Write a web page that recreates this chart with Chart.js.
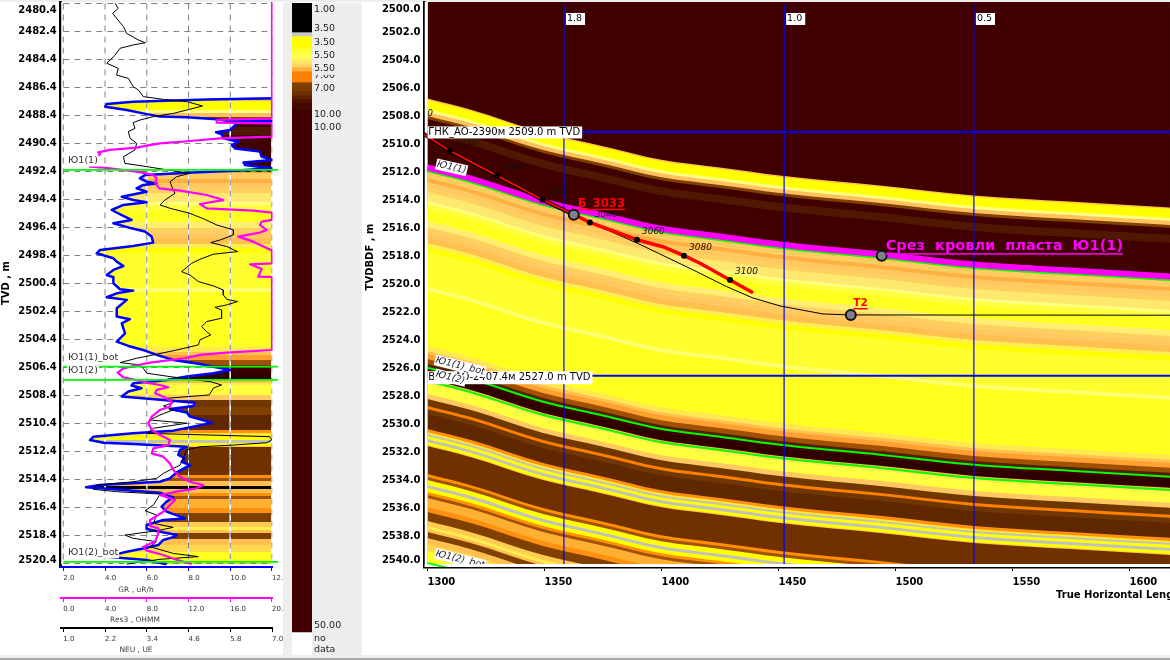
<!DOCTYPE html>
<html><head><meta charset="utf-8">
<style>
html,body{margin:0;padding:0;background:#fff;width:1170px;height:660px;overflow:hidden}
canvas{position:absolute;display:block}
.b{position:absolute}
</style>
<script src="https://cdn.jsdelivr.net/npm/chart.js@4/dist/chart.umd.js"></script>
</head><body>
<div class="b" style="left:0;top:0;width:1170px;height:2px;background:#eee"></div>
<div class="b" style="left:283px;top:3px;width:79px;height:652px;background:#eee"></div>
<div class="b" style="left:0;top:655px;width:1170px;height:5px;background:#eee"></div>
<div class="b" style="left:0;top:658px;width:1170px;height:2px;background:#aaa"></div>
<canvas id="log" width="283" height="655" style="left:0;top:0"></canvas>
<canvas id="cb" width="79" height="652" style="left:283px;top:3px"></canvas>
<canvas id="sec" width="808" height="655" style="left:362px;top:0"></canvas>
<script>
// ---------- log track ----------
const logTickValues=[2480.9,2482.4,2484.4,2486.4,2488.4,2490.4,2492.4,2494.4,2496.4,2498.4,2500.4,2502.4,2504.4,2506.4,2508.4,2510.4,2512.4,2514.4,2516.4,2518.4,2520.15];
const logTickLabels=["2480.4","2482.4","2484.4","2486.4","2488.4","2490.4","2492.4","2494.4","2496.4","2498.4","2500.4","2502.4","2504.4","2506.4","2508.4","2510.4","2512.4","2514.4","2516.4","2518.4","2520.4"];
const gridDepths=[2480.4,2482.4,2484.4,2486.4,2488.4,2490.4,2492.4,2494.4,2496.4,2498.4,2500.4,2502.4,2504.4,2506.4,2508.4,2510.4,2512.4,2514.4,2516.4,2518.4,2520.4];
const gridEnds=[12,12,12,12,6.1,10.1,12,5.1,5.3,3.8,4.4,4.6,4.6,9.2,4.9,9.1,7.6,7,6.7,7.4,12];
const grTicks=[2,4,6,8,10,12], grLabels=["2.0","4.0","6.0","8.0","10.0","12.0"];
const resTicks=[0,4,8,12,16,20], resLabels=["0.0","4.0","8.0","12.0","16.0","20.0"];
const neuTicks=[1,2.2,3.4,4.6,5.8,7], neuLabels=["1.0","2.2","3.4","4.6","5.8","7.0"];
const topDepths=[2492.29,2506.34,2507.29,2520.29];
const topNames=["Ю1(1)","Ю1(1)_bot","Ю1(2)","Ю1(2)_bot"];

const grDepth=[2480.3,2487.05,2487.17,2487.25,2487.41,2487.58,2487.77,2488.01,2488.25,2488.48,2488.53,2488.67,2488.77,2488.8,2488.95,2489.08,2489.44,2489.6,2489.75,2490.03,2490.27,2490.51,2490.75,2490.98,2491.34,2491.58,2491.75,2491.94,2492.05,2492.17,2492.34,2492.48,2492.65,2492.89,2493.13,2493.25,2493.36,2493.6,2493.84,2494.2,2494.44,2494.6,2494.79,2495.15,2495.51,2495.86,2496.1,2496.46,2496.69,2497.05,2497.48,2497.72,2498,2498.24,2498.6,2498.84,2499.15,2499.43,2499.79,2499.95,2500.38,2500.81,2500.91,2501.1,2501.38,2501.57,2502.17,2502.76,2502.95,2503.24,2503.96,2504.55,2504.86,2505.19,2505.5,2505.86,2506.15,2506.34,2506.57,2506.81,2507.05,2507.29,2507.53,2507.69,2507.88,2508.12,2508.48,2508.72,2508.91,2509.15,2509.36,2509.62,2509.91,2510.34,2510.57,2510.91,2511.1,2511.34,2511.58,2511.77,2511.87,2512.06,2512.29,2512.65,2512.89,2513.13,2513.37,2513.89,2514.32,2514.56,2514.79,2514.96,2515.15,2515.34,2515.68,2515.98,2516.34,2516.7,2517.18,2517.29,2517.65,2517.94,2518.37,2518.48,2518.72,2519.08,2519.25,2519.56,2519.91,2520.15,2520.46];
const grValue=[12,12,12,8.87,5.35,4.08,4.01,5.04,5.83,6.63,7.91,9.35,9.83,12,10.31,10.23,9.99,9.32,9.59,9.67,10.39,10.07,10.23,11.42,11.5,12,10.63,10.71,11.27,12,10.15,8.23,5.91,5.67,5.99,6.47,5.83,5.51,5.99,4.8,5.35,5.99,4.88,4.32,4.8,5.27,4.4,5.27,5.91,6.23,6.31,5.35,3.76,3.6,4.4,4.56,4.88,4.4,4.08,4.4,4.4,4.72,5.35,4.56,4.08,5.04,4.56,4.56,5.19,4.8,4.96,4.56,5.12,5.91,6.47,7.27,8.55,9.19,9.99,9.19,7.91,6.95,5.35,5.27,5.75,5.12,4.8,6.79,8.31,8.23,7.11,7.91,8.07,9.11,8.39,7.27,5.35,3.44,3.28,3.92,5.35,7.91,7.59,7.51,7.83,7.67,8.07,7.43,7.11,6.63,3.76,3.09,4.88,6.63,7.27,6.95,6.71,6.95,7.83,6.79,5.99,5.99,7.43,7.35,6.79,6.55,6.07,5.04,4.08,5.99,6.95];

const resDepth=[2480.3,2488.6,2488.72,2488.91,2488.96,2489.91,2490.03,2490.22,2490.39,2490.55,2490.7,2490.86,2491.03,2491.15,2492.05,2492.17,2492.44,2492.65,2492.89,2493.2,2493.6,2493.77,2494.08,2494.44,2494.72,2495.03,2495.2,2495.34,2495.86,2495.98,2496.22,2496.57,2496.76,2497.05,2497.41,2497.76,2498.05,2498.96,2499.03,2499.36,2499.91,2499.93,2505.15,2505.34,2505.5,2505.74,2506.05,2506.22,2506.46,2506.76,2507.1,2507.24,2507.48,2507.65,2507.81,2508,2508.24,2508.48,2508.84,2509.19,2509.43,2509.91,2510.38,2510.86,2511.22,2511.58,2511.94,2512.18,2512.53,2512.77,2513.25,2513.72,2514.2,2514.56,2514.79,2515.03,2515.27,2515.51,2515.87,2516.22,2516.7,2517.29,2517.72,2517.89,2518.25,2518.84,2519.2,2519.48,2519.79,2520.1,2520.44];
const resValue=[20,20,14.7,14.7,20,20,15.02,12.14,9.27,7.99,7.03,4.47,3.35,3.51,2.56,4.47,7.35,8.63,8.95,8.79,9.2,11.18,13.74,15.34,13.1,13.74,18.21,20,20,19.01,18.85,19.49,18.85,16.77,18.21,19.17,20,20,17.89,19.01,18.69,20,20,15.65,13.1,11.66,8.31,7.19,5.75,5.21,5.75,6.71,7.99,9.27,10.06,8.95,8.79,9.58,10.38,10.22,9.27,8.47,8.15,8.47,9.27,10.22,10.06,8.63,8.47,9.58,10.22,10.54,11.18,12.14,13.42,12.78,10.86,9.27,10.7,10.22,9.58,8.31,8.31,9.11,9.11,8.79,7.67,7.99,9.58,10.7,12.3];

const neuDepth=[2480.39,2480.75,2481.1,2481.46,2482.05,2482.53,2483.01,2483.2,2483.36,2483.6,2484.08,2484.67,2485.03,2485.51,2485.75,2486.34,2486.58,2487.05,2487.25,2487.41,2487.72,2488.01,2488.25,2488.48,2488.72,2488.91,2489.32,2489.55,2490.03,2490.39,2490.86,2491.34,2491.82,2491.98,2492.22,2492.53,2492.77,2493.13,2493.48,2493.96,2494.44,2494.79,2495.03,2495.39,2495.82,2496.22,2496.57,2496.93,2497.29,2497.48,2497.76,2498.12,2498.31,2498.67,2498.96,2499.55,2499.79,2500.26,2500.57,2500.86,2501.22,2501.53,2501.69,2501.93,2502.1,2502.29,2502.88,2503.12,2503.48,2503.84,2504.07,2504.43,2504.79,2505.15,2505.5,2505.74,2506.05,2506.22,2506.46,2506.81,2507.05,2507.24,2507.41,2507.65,2507.88,2508.36,2508.6,2508.91,2509.15,2509.43,2509.79,2510.15,2510.38,2510.74,2511.1,2511.34,2511.58,2511.77,2511.94,2512.06,2512.29,2513.37,2513.6,2513.96,2514.32,2514.56,2514.79,2515.1,2515.27,2515.44,2515.87,2516.22,2516.63,2516.94,2517.53,2517.82,2518.06,2518.37,2518.6,2518.84,2519.2,2519.68,2519.91,2520.1,2520.44];
const neuValue=[2.49,2.58,2.42,2.53,2.73,2.82,3.16,3.36,3.01,2.63,2.49,2.25,2.58,2.53,2.87,3.01,3.16,3.3,3.88,4.55,5,4.55,4.16,3.59,3.21,3.01,3.06,2.87,2.92,3.11,3.06,2.73,2.77,3.21,3.83,4.64,4.26,4.07,4.12,4.21,3.92,3.78,4.07,4.64,5.07,5.41,5.89,5.89,5.51,5.24,5.7,6.01,5.31,4.93,4.69,4.4,4.64,4.88,5.31,5.6,5.6,5.7,6.01,5.7,5.36,5.55,5.55,5.12,4.98,5.12,5.24,4.93,4.88,4.26,3.59,3.11,2.63,3.21,3.3,3.4,4.07,4.64,5.22,5.55,5.31,5.2,3.97,4.16,3.88,4.16,3.78,3.49,4.55,3.59,3.4,6.94,6.99,6.85,5.89,4.93,4.55,4.36,4.16,3.88,3.68,3.01,1.96,1.86,2.53,3.78,3.68,3.59,3.35,3.68,3.59,4.16,3.68,2.77,3.01,3.68,3.49,4.16,4.88,3.78,2.82];

// ---------- lithology stripes (shared by log track and section) ----------
const stripeDepths=[2440,2487.26,2487.36,2488.01,2488.22,2488.51,2488.72,2489.22,2489.79,2492.44,2492.51,2492.94,2493.22,2493.58,2493.94,2494.58,2494.79,2495.15,2496.01,2496.44,2496.79,2497.15,2497.58,2497.86,2498.22,2500.72,2501.01,2504.94,2505.29,2505.51,2505.86,2506.22,2506.44,2506.72,2507.29,2507.51,2507.65,2508.36,2508.72,2509.22,2509.43,2509.79,2510.86,2511.08,2511.22,2511.36,2511.58,2511.79,2512.01,2512.08,2514.08,2514.29,2514.51,2514.86,2515.08,2515.36,2515.58,2515.79,2516.44,2516.79,2517.44,2517.79,2518.01,2518.22,2518.65,2519.08,2519.58];
const stripeColors=["#400000","#FFC050","#FFFF00","#FFFF80","#FFC060","#804000","#400000","#501800","#400000","#FFA030","#FFCC60","#FFB040","#FFC860","#FFD060","#FFE870","#FFFF80","#FFFF40","#FFFF20","#FFEE70","#FFD060","#FFC860","#FFC050","#FFEE50","#FFFF00","#FFFF30","#FFFF70","#FFFF20","#FFE850","#FFC050","#FFA030","#A05000","#502000","#400000","#300000","#FFC040","#FFEE50","#FFFF40","#FFC860","#703800","#804000","#804000","#602800","#FF9010","#FFEA30","#FFEA30","#FFFF00","#C0C0C0","#FFFF00","#FFC050","#703000","#FF9000","#A05010","#FFC050","#000000","#FFC050","#FF9000","#A05010","#FFB030","#FF9010","#804000","#FFCC50","#FFEE50","#FFC050","#804000","#FFC050","#FFD850","#FFFF20"];
const sectionColorOverrides={2509.22:"#FF8000",2509.43:"#703800",2511.22:"#C0C0C0",2514.51:"#FFFF00",2514.86:"#C0C0C0",2515.08:"#FFFF00"};

// ---------- section ----------
const sectionX=[1300,1318.2,1349.4,1373.7,1399.4,1425,1450.6,1493.4,1533.5,1574.6,1617.3];
const horizonTop=[2511.93,2512.71,2514.36,2515.29,2516.29,2516.86,2517.43,2518.14,2518.86,2519.29,2519.71];
const secYTicks=[2500.36,2502,2504,2506,2508,2510,2512,2514,2516,2518,2520,2522,2524,2526,2528,2530,2532,2534,2536,2538,2539.71];
const secYLabels=["2500.0","2502.0","2504.0","2506.0","2508.0","2510.0","2512.0","2514.0","2516.0","2518.0","2520.0","2522.0","2524.0","2526.0","2528.0","2530.0","2532.0","2534.0","2536.0","2538.0","2540.0"];
const secXTicks=[1300,1350,1400,1450,1500,1550,1600];
const mdX=[1290.4,1309.5,1329.7,1349.2,1369.4,1389.5,1409.6,1429.3];
const mdY=[2508.43,2510.48,2512.26,2513.98,2515.6,2516.84,2517.98,2519.71];
const mdLabels=["2960","2980","3000","3020","3040","3060","3080","3100"];
const oldWellX=[1290.4,1309.5,1329.7,1349.2,1362.5];
const oldWellY=[2508.43,2510.48,2512.26,2513.98,2515.05];
const redWellX=[1362.5,1369.4,1389.5,1400.6,1409.6,1416.5,1429.3,1439.1];
const redWellY=[2515.05,2515.6,2516.84,2517.34,2517.98,2518.52,2519.71,2520.62];
const planX=[1369.4,1389.5,1413.6,1427.9,1439.1,1450.7,1469,1480.9,1617.3];
const planY=[2515.6,2517.07,2519,2520.19,2521,2521.57,2522.14,2522.21,2522.23];
const markerX=[1362.5,1480.9,1494.1];
const markerY=[2515.05,2522.21,2517.98];
const offsetLineX=[1358.3,1452.4,1533.5], offsetLineLabels=["1.8","1.0","0.5"];
const contactDepths=[2509.14,2526.55];
const contactLabels=["ГНК_АО-2390м 2509.0 m TVD","ВНК_АО-2407.4м 2527.0 m TVD"];

// ---------- colour bar ----------
const cbEdges=[0,29,33,45,50,55,58,61,64,68,79,84,88,92,96,100,106,629,652];
const cbColors=["#000000","#C8C8C8","#FFFF00","#FFFF30","#FFFF50","#FFF060","#FFE060","#FFD060","#FFB040","#FF8000","#804000","#7A3A00","#703000","#602000","#501000","#450800","#400000","#FFFFFF"];
const cbTickPos=[647,636,623,125,112,86,73,66,53,40,26,7];
const cbTickLabels=["data","no","50.00","10.00","10.00","7.00","7.00","5.50","5.50","3.50","3.50","1.00"];

// ---------- helpers ----------
const FF="'DejaVu Sans'";
const zip=(xs,ys)=>xs.map((x,i)=>({x,y:ys[i]}));
const fixW=w=>s=>{s.width=w;s.paddingTop=s.paddingBottom=s.paddingLeft=s.paddingRight=0;};
const fixH=h=>s=>{s.height=h;s.paddingTop=s.paddingBottom=s.paddingLeft=s.paddingRight=0;};
const setTicks=v=>s=>{s.ticks=v.map(value=>({value}));};
const base={responsive:false,animation:false,devicePixelRatio:1,events:[],plugins:{legend:{display:false},tooltip:{enabled:false}}};

function drawLabels(ctx,list,xs,ys,clip){
  ctx.save();
  if(clip){ctx.beginPath();ctx.rect(clip.l,clip.t,clip.r-clip.l,clip.b-clip.t);ctx.clip();}
  for(const l of list){
    const x=(l.x!==undefined?xs.getPixelForValue(l.x):l.px)+(l.dx||0);
    const y=(l.y!==undefined?ys.getPixelForValue(l.y):l.py)+(l.dy||0);
    ctx.save();ctx.translate(x,y);if(l.rot)ctx.rotate(l.rot*Math.PI/180);
    ctx.font=l.font;ctx.textBaseline='middle';ctx.textAlign=l.align||'left';
    const w=ctx.measureText(l.t).width,h=l.h||12;
    const x0=l.align==='center'?-w/2:0;
    if(l.bg){ctx.fillStyle=l.bg;ctx.fillRect(x0-1,-h/2,w+(l.pad||2),h);}
    ctx.fillStyle=l.color||'#000';ctx.fillText(l.t,0,0);
    if(l.ul){ctx.fillRect(x0,l.ul,w,1.5);}
    ctx.restore();
  }
  ctx.restore();
}

// ---------- log chart ----------
{
  const ds=[];
  stripeDepths.forEach((d,i)=>ds.push({data:[{x:2,y:d},{x:12,y:d}],xAxisID:'xGR',yAxisID:'y',borderWidth:0,pointRadius:0,backgroundColor:stripeColors[i],fill:{value:2520.4},order:1000-i}));
  const poly=zip(grValue,grDepth).concat([{x:1.9,y:2520.46},{x:1.9,y:2480.3}]);
  ds.push({data:poly,xAxisID:'xGR',yAxisID:'y',borderWidth:0,pointRadius:0,backgroundColor:'#fff',fill:'shape',order:100});
  grTicks.forEach(t=>{
    ds.push({data:[{x:t,y:2480.4},{x:t,y:2520.4}],xAxisID:'xGR',yAxisID:'y',borderColor:'#fff',borderWidth:1,pointRadius:0,order:90});
    ds.push({data:[{x:t,y:2480.4},{x:t,y:2520.4}],xAxisID:'xGR',yAxisID:'y',borderColor:'#808080',borderWidth:1,borderDash:[6,5],pointRadius:0,order:89});
  });
  gridDepths.forEach((d,i)=>ds.push({data:[{x:2,y:d},{x:gridEnds[i],y:d}],xAxisID:'xGR',yAxisID:'y',borderColor:'#808080',borderWidth:1,borderDash:[6,5],pointRadius:0,order:88}));
  ds.push({data:zip(grValue,grDepth).slice(2),xAxisID:'xGR',yAxisID:'y',borderColor:'#0000FF',borderWidth:2.5,pointRadius:0,order:30,borderJoinStyle:'round'});
  ds.push({data:zip(neuValue,neuDepth),xAxisID:'xNeu',yAxisID:'y',borderColor:'#000',borderWidth:1,pointRadius:0,order:20});
  ds.push({data:zip(resValue,resDepth),xAxisID:'xRes',yAxisID:'y',borderColor:'#FF00FF',borderWidth:2.2,pointRadius:0,order:10,borderJoinStyle:'round'});
  topDepths.forEach(d=>ds.push({data:[{x:2,y:d},{x:12.29,y:d}],xAxisID:'xGR',yAxisID:'y',borderColor:'#00FF00',borderWidth:1.8,pointRadius:0,order:5,clip:false}));
  const axisX=(min,max,ticks,labels,color,h,w)=>({type:'linear',position:'bottom',min,max,weight:w,afterBuildTicks:setTicks(ticks),afterFit:fixH(h),
    border:{display:true,color,width:2},
    grid:{display:true,drawOnChartArea:false,drawTicks:true,tickLength:4,color},
    ticks:{autoSkip:false,maxRotation:0,align:'start',padding:3,color:'#333',font:{family:FF,size:7},callback:(v,i)=>labels[i]}});
  const pageLabels=[
    {t:'GR , uR/h',px:136,py:590,align:'center',font:"7.5px "+FF,color:'#444'},
    {t:'Res3 , OHMM',px:135,py:620,align:'center',font:"7.5px "+FF,color:'#444'},
    {t:'NEU , UE',px:136,py:650,align:'center',font:"7.5px "+FF,color:'#444'}];
  const topLabelPos=[2491.65,2505.7,2506.63,2519.63];
  new Chart(document.getElementById('log'),{type:'line',data:{datasets:ds},
    options:{...base,layout:{autoPadding:false,padding:{top:2,right:10.5,left:0,bottom:0}},
      scales:{
        y:{type:'linear',reverse:true,min:2480.293,max:2520.65,afterBuildTicks:setTicks(logTickValues),afterFit:fixW(60.8),
          border:{display:true,color:'#000',width:3},grid:{display:false,drawTicks:false},
          ticks:{autoSkip:false,padding:4,color:'#000',font:{family:FF,size:10,weight:'bold'},callback:(v,i)=>logTickLabels[i]}},
        xGR:axisX(1.88,12.024,grTicks,grLabels,'#0000FF',31,1),
        xRes:axisX(-0.24,20.048,resTicks,resLabels,'#FF00FF',30,2),
        xNeu:axisX(0.928,7.014,neuTicks,neuLabels,'#000',27,3)
      }},
    plugins:[{id:'logLabels',afterDatasetsDraw(c){
      const ctx=c.ctx;
      drawLabels(ctx,topNames.map((t,i)=>({t,x:2.23,y:topLabelPos[i],font:"9.5px "+FF,color:'#333',bg:'#fff',h:11})),c.scales.xGR,c.scales.y);
      drawLabels(ctx,pageLabels,c.scales.xGR,c.scales.y);
      ctx.save();ctx.translate(6,283);ctx.rotate(-Math.PI/2);ctx.font="bold 10px "+FF;ctx.textAlign='center';ctx.textBaseline='middle';ctx.fillStyle='#000';ctx.fillText('TVD , m',0,0);ctx.restore();
    }}]});
}

// ---------- colour bar chart ----------
{
  const ds=cbColors.map((c,i)=>({data:[[cbEdges[i],cbEdges[i+1]]],backgroundColor:c,borderWidth:0,barPercentage:1,categoryPercentage:1,grouped:false}));
  new Chart(document.getElementById('cb'),{type:'bar',data:{labels:['c'],datasets:ds},
    options:{...base,layout:{autoPadding:false,padding:{left:9,top:0,bottom:0,right:0}},
      scales:{
        x:{display:false},
        y:{position:'right',type:'linear',reverse:true,min:0,max:652,afterBuildTicks:setTicks(cbTickPos),afterFit:fixW(50),
          border:{display:false},grid:{display:false,drawTicks:false},
          ticks:{autoSkip:false,padding:2,color:'#222',showLabelBackdrop:true,backdropColor:'#EEEEEE',backdropPadding:0,font:{family:FF,size:9.5},callback:(v,i)=>cbTickLabels[i]}}
      }}});
}

// ---------- section chart ----------
{
  const ds=[];
  const shifted=off=>sectionX.map((x,i)=>({x,y:horizonTop[i]+off}));
  const smooth={cubicInterpolationMode:'monotone'};
  stripeDepths.forEach((d,i)=>{
    const col=sectionColorOverrides[d]||stripeColors[i];
    ds.push({data:shifted(d-2492.44),borderWidth:0,pointRadius:0,backgroundColor:col,fill:{value:2541},order:1000-i,...smooth});
  });
  // white gaps between the section and its axes
  ds.push({data:[{x:1298.7,y:2540.11},{x:1617.3,y:2540.11}],borderColor:'#fff',borderWidth:3,pointRadius:0,order:60});
  ds.push({data:[{x:1299.36,y:2499.8},{x:1299.36,y:2540.2}],borderColor:'#fff',borderWidth:3,pointRadius:0,order:60});
  topDepths.forEach((d,i)=>ds.push({data:shifted(d-2492.29),borderColor:'#00FF00',borderWidth:2,pointRadius:0,order:50,...smooth}));
  ds.push({data:shifted(-0.25),borderColor:'#FF00FF',borderWidth:6,pointRadius:0,order:45,...smooth});
  offsetLineX.forEach(x=>ds.push({data:[{x,y:2500},{x,y:2540}],borderColor:'#0000FF',borderWidth:1.2,pointRadius:0,order:40}));
  contactDepths.forEach(y=>ds.push({data:[{x:1300,y},{x:1617.3,y}],borderColor:'#0000FF',borderWidth:2,pointRadius:0,order:40}));
  ds.push({data:zip(planX,planY),borderColor:'#000',borderWidth:1,pointRadius:0,order:30});
  ds.push({data:zip(oldWellX,oldWellY),borderColor:'#000',borderWidth:4,pointRadius:0,order:29});
  ds.push({data:zip(oldWellX,oldWellY),borderColor:'#FF0000',borderWidth:2,pointRadius:0,order:28});
  ds.push({data:zip(redWellX,redWellY),borderColor:'#FF0000',borderWidth:3.5,pointRadius:0,order:27});
  ds.push({data:zip(mdX,mdY),showLine:false,pointRadius:3,pointBackgroundColor:'#000',pointBorderWidth:0,order:26});
  ds.push({data:zip(markerX,markerY),showLine:false,pointRadius:5,pointBackgroundColor:'#808090',pointBorderColor:'#111',pointBorderWidth:2,order:25});

  new Chart(document.getElementById('sec'),{type:'line',data:{datasets:ds},
    options:{...base,layout:{autoPadding:false,padding:{top:2,left:0,right:0,bottom:0}},
      scales:{
        x:{type:'linear',position:'bottom',min:1298.72,max:1617.31,afterBuildTicks:setTicks(secXTicks),afterFit:fixH(88),
          border:{display:true,color:'#000',width:2.5},
          grid:{display:true,drawOnChartArea:false,drawTicks:true,tickLength:4,color:'#000'},
          ticks:{autoSkip:false,maxRotation:0,align:'start',padding:5,color:'#000',font:{family:FF,size:10,weight:'bold'},callback:v=>String(v)}},
        y:{type:'linear',reverse:true,min:2499.857,max:2540.214,afterBuildTicks:setTicks(secYTicks),afterFit:fixW(62.5),
          border:{display:true,color:'#000',width:2.5},grid:{display:false,drawTicks:false},
          ticks:{autoSkip:false,padding:4,color:'#000',font:{family:FF,size:10,weight:'bold'},callback:(v,i)=>secYLabels[i]}}
      }},
    plugins:[{id:'secLabels',afterDatasetsDraw(c){
      const ctx=c.ctx,xs=c.scales.x,ys=c.scales.y;
      const clip={l:xs.getPixelForValue(1300),t:0,r:c.width,b:ys.getPixelForValue(2540)};
      const italic="italic 9px "+FF;
      const small="10px "+FF;
      const lab=[];
      mdLabels.forEach((t,i)=>lab.push({t,x:mdX[i],y:mdY[i],dx:5,dy:-8,font:italic,color:'#111'}));
      offsetLineX.forEach((x,i)=>lab.push({t:offsetLineLabels[i],x,y:2501.07,dx:3,font:"9.5px "+FF,color:'#000',bg:'#fff',pad:4}));
      lab.push({t:contactLabels[0],x:1300.3,y:contactDepths[0],dy:0.5,font:small,bg:'#fff',h:12,pad:3});
      lab.push({t:contactLabels[1],x:1300.3,y:contactDepths[1],dy:2,font:small,bg:'#fff',h:13,pad:3});
      lab.push({t:topNames[0],x:1304.1,y:2511.43,rot:13,font:"italic 9.5px "+FF,bg:'#fff',h:11,color:'#223'});
      lab.push({t:topNames[1],x:1303.6,y:2525.43,rot:14,font:"italic 9.5px "+FF,bg:'#fff',h:11,color:'#223'});
      lab.push({t:topNames[2],x:1303.6,y:2526.43,rot:14,font:"italic 9.5px "+FF,bg:'#fff',h:11,color:'#223'});
      lab.push({t:topNames[3],x:1303.6,y:2539.25,rot:14,font:"italic 9.5px "+FF,bg:'#fff',h:11,color:'#223'});
      lab.push({t:'Б_3033',x:markerX[0],y:markerY[0],dx:4,dy:-11,font:"bold 11.7px "+FF,color:'#FF0000',ul:5});
      lab.push({t:'T2',x:markerX[1],y:markerY[1],dx:2.5,dy:-12,font:"bold 10.5px "+FF,color:'#FF0000',ul:5});
      lab.push({t:'Срез  кровли  пласта  Ю1(1)',x:markerX[2],y:markerY[2],dx:4,dy:-9.5,font:"bold 14.5px "+FF,color:'#FF00FF',ul:7});
      drawLabels(ctx,lab,xs,ys,clip);
      ctx.save();ctx.font="bold 10px "+FF;ctx.fillStyle='#000';ctx.textBaseline='middle';
      ctx.fillText('True Horizontal Length , m',694,595);
      ctx.translate(8,257);ctx.rotate(-Math.PI/2);ctx.textAlign='center';ctx.fillText('TVDBDF , m',0,0);ctx.restore();
    }}]});
}
</script>
</body></html>
